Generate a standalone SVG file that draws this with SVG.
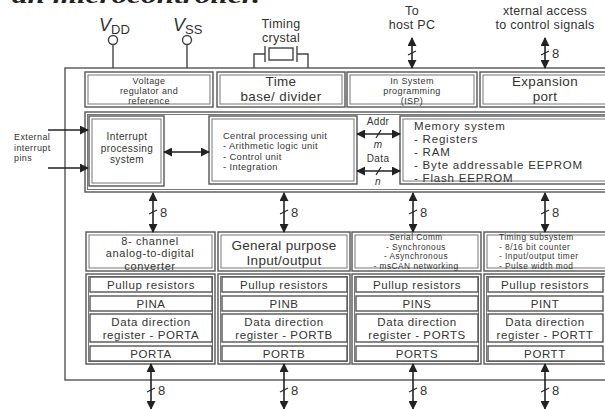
<svg xmlns="http://www.w3.org/2000/svg" width="605" height="409" viewBox="0 0 605 409">
<defs>
<marker id="ah" viewBox="0 0 10 10" refX="9" refY="5" markerWidth="9" markerHeight="9" markerUnits="userSpaceOnUse" orient="auto-start-reverse">
<path d="M0,0 L10,5 L0,10 z" fill="#222"/>
</marker>
<style>
text{font-family:"Liberation Sans",Arial,sans-serif;fill:#333}
.b{fill:none;stroke:#555;stroke-width:1.4}
.bi{fill:none;stroke:#777;stroke-width:1}
.w{fill:none;stroke:#444;stroke-width:1.4}
.a{fill:none;stroke:#222;stroke-width:1.6;marker-start:url(#ah);marker-end:url(#ah)}
.ae{fill:none;stroke:#222;stroke-width:1.6;marker-end:url(#ah)}
.s{stroke:#222;stroke-width:1.2}
.c{text-anchor:middle}
.t9{font-size:9px;letter-spacing:0.4px}
.t85{font-size:8.3px;letter-spacing:0.5px}
.t93{font-size:9.3px;letter-spacing:0.4px}
.t10{font-size:10px;letter-spacing:0.4px}
.t11{font-size:11px;letter-spacing:0.6px}
.t115{font-size:11.5px;letter-spacing:0.6px}
.t125{font-size:12.5px;letter-spacing:0.3px}
.t13{font-size:13px}
.t134{font-size:13.4px;letter-spacing:0.4px}
.mem{font-size:11.5px;letter-spacing:0.8px}
</style>
</defs>
<rect width="605" height="409" fill="#fff"/>
<text x="12" y="3" style="font-family:'Liberation Serif',serif;font-size:20px;font-weight:bold;font-style:italic;fill:#222" textLength="248" lengthAdjust="spacingAndGlyphs">an microcontroller.</text>

<rect class="b" x="65" y="68" width="560" height="312"/>

<g id="vdd">
<circle class="w" cx="113" cy="40" r="4.5"/>
<line class="w" x1="113" y1="44.5" x2="113" y2="68"/>
<text x="99" y="31" style="font-size:18px"><tspan style="font-style:italic">V</tspan><tspan dy="3" style="font-size:13px">DD</tspan></text>
</g>
<g id="vss">
<circle class="w" cx="187" cy="40" r="4.5"/>
<line class="w" x1="187" y1="44.5" x2="187" y2="68"/>
<text x="173" y="31" style="font-size:18px"><tspan style="font-style:italic">V</tspan><tspan dy="3" style="font-size:13px">SS</tspan></text>
</g>
<g id="crystal">
<text class="c t125" x="281" y="28">Timing</text>
<text class="c t125" x="281" y="42">crystal</text>
<rect class="w" x="269" y="48" width="24" height="12"/>
<line class="w" x1="265" y1="46" x2="265" y2="62"/>
<line class="w" x1="297" y1="46" x2="297" y2="62"/>
<polyline class="w" points="265,54 254,54 254,68"/>
<polyline class="w" points="297,54 308,54 308,68"/>
</g>
<g id="hostpc">
<text class="c t125" x="412" y="15">To</text>
<text class="c t125" x="412" y="29">host PC</text>
</g>
<g id="extaccess">
<text class="c t125" x="545" y="15">xternal access</text>
<text class="c t125" x="545" y="29">to control signals</text>
</g>

<g id="voltage">
<rect class="b" x="85" y="72" width="128" height="35"/><rect class="bi" x="88" y="75" width="122" height="29"/>
<text class="c t9" x="149" y="84">Voltage</text>
<text class="c t9" x="149" y="94">regulator and</text>
<text class="c t9" x="149" y="104">reference</text>
</g>
<g id="timebase">
<rect class="b" x="217" y="72" width="128" height="35"/><rect class="bi" x="220" y="75" width="122" height="29"/>
<text class="c t134" x="281" y="86">Time</text>
<text class="c t134" x="281" y="101">base/ divider</text>
</g>
<g id="isp">
<rect class="b" x="347" y="72" width="130" height="35"/><rect class="bi" x="350" y="75" width="124" height="29"/>
<text class="c t9" x="412" y="84">In System</text>
<text class="c t9" x="412" y="94">programming</text>
<text class="c t9" x="412" y="104">(ISP)</text>
</g>
<g id="expansion">
<rect class="b" x="480" y="72" width="140" height="35"/><rect class="bi" x="483" y="75" width="134" height="29"/>
<text class="c t134" x="545" y="86">Expansion</text>
<text class="c t134" x="545" y="101">port</text>
</g>

<g id="coreframe">
<rect class="b" x="85" y="112" width="535" height="80"/><rect class="bi" x="87.5" y="114.5" width="530" height="75"/>
</g>
<g id="interrupt">
<rect class="b" x="89" y="116" width="75" height="70"/><rect class="bi" x="92" y="119" width="69" height="64"/>
<text class="c t10" x="127" y="140">Interrupt</text>
<text class="c t10" x="127" y="151.5">processing</text>
<text class="c t10" x="127" y="163">system</text>
</g>
<g id="extint">
<text class="t9" x="14" y="140">External</text>
<text class="t9" x="14" y="150.5">interrupt</text>
<text class="t9" x="14" y="161">pins</text>
</g>
<g id="cpu">
<rect class="b" x="209" y="116" width="148" height="68"/><rect class="bi" x="212" y="119" width="142" height="62"/>
<text class="t93" x="223" y="138.5">Central processing unit</text>
<text class="t93" x="223" y="149">- Arithmetic logic unit</text>
<text class="t93" x="223" y="159.5">- Control unit</text>
<text class="t93" x="223" y="170">- Integration</text>
</g>
<g id="memory">
<rect class="b" x="400" y="116" width="220" height="68"/><rect class="bi" x="403" y="119" width="214" height="62"/>
<text class="mem" x="414" y="129.5">Memory  system</text>
<text class="mem" x="414" y="142.5">- Registers</text>
<text class="mem" x="414" y="155.5">- RAM</text>
<text class="mem" x="414" y="168.5">- Byte addressable EEPROM</text>
<text class="mem" x="414" y="181.5">- Flash EEPROM</text>
</g>

<g id="adc">
<rect class="b" x="86" y="232" width="129" height="39"/><rect class="bi" x="89" y="235" width="123" height="33"/>
<text class="c t11" x="150" y="244.5">8- channel</text>
<text class="c t11" x="150" y="257">analog-to-digital</text>
<text class="c t11" x="150" y="269.5">converter</text>
</g>
<g id="gpio">
<rect class="b" x="218" y="232" width="132" height="39"/><rect class="bi" x="221" y="235" width="126" height="33"/>
<text class="c" x="284" y="249.5" style="font-size:13.5px;letter-spacing:0.3px">General purpose</text>
<text class="c" x="284" y="265" style="font-size:13.5px;letter-spacing:0.3px">Input/output</text>
</g>
<g id="serial">
<rect class="b" x="352" y="232" width="129" height="39"/><rect class="bi" x="355" y="235" width="123" height="33"/>
<text class="c t85" x="416" y="240">Serial Comm</text>
<text class="c t85" x="416" y="249.5">- Synchronous</text>
<text class="c t85" x="416" y="259">- Asynchronous</text>
<text class="c t85" x="416" y="268.5">- msCAN networking</text>
</g>
<g id="timing">
<rect class="b" x="484" y="232" width="136" height="39"/><rect class="bi" x="487" y="235" width="130" height="33"/>
<text class="t85" x="499" y="240">Timing  subsystem</text>
<text class="t85" x="499" y="249.5">- 8/16 bit counter</text>
<text class="t85" x="499" y="259">- Input/output timer</text>
<text class="t85" x="499" y="268.5">- Pulse width mod</text>
</g>

<g id="porta">
<rect class="b" x="86" y="274" width="129" height="90"/><rect class="bi" x="88.5" y="276.5" width="124" height="85"/>
<rect class="b" x="90" y="277" width="122" height="15"/><text class="c t115" x="151" y="289">Pullup resistors</text>
<rect class="b" x="90" y="296" width="122" height="15"/><text class="c t115" x="151" y="308">PINA</text>
<rect class="b" x="90" y="314" width="122" height="28"/><text class="c t115" x="151" y="326">Data direction</text><text class="c t115" x="151" y="339">register - PORTA</text>
<rect class="b" x="90" y="346" width="122" height="15"/><text class="c t115" x="151" y="358">PORTA</text>
</g>
<g id="portb">
<rect class="b" x="218" y="274" width="132" height="90"/><rect class="bi" x="220.5" y="276.5" width="127" height="85"/>
<rect class="b" x="222" y="277" width="125" height="15"/><text class="c t115" x="284" y="289">Pullup resistors</text>
<rect class="b" x="222" y="296" width="125" height="15"/><text class="c t115" x="284" y="308">PINB</text>
<rect class="b" x="222" y="314" width="125" height="28"/><text class="c t115" x="284" y="326">Data direction</text><text class="c t115" x="284" y="339">register - PORTB</text>
<rect class="b" x="222" y="346" width="125" height="15"/><text class="c t115" x="284" y="358">PORTB</text>
</g>
<g id="ports">
<rect class="b" x="352" y="274" width="129" height="90"/><rect class="bi" x="354.5" y="276.5" width="124" height="85"/>
<rect class="b" x="356" y="277" width="122" height="15"/><text class="c t115" x="417" y="289">Pullup resistors</text>
<rect class="b" x="356" y="296" width="122" height="15"/><text class="c t115" x="417" y="308">PINS</text>
<rect class="b" x="356" y="314" width="122" height="28"/><text class="c t115" x="417" y="326">Data direction</text><text class="c t115" x="417" y="339">register - PORTS</text>
<rect class="b" x="356" y="346" width="122" height="15"/><text class="c t115" x="417" y="358">PORTS</text>
</g>
<g id="portt">
<rect class="b" x="484" y="274" width="136" height="90"/><rect class="bi" x="486.5" y="276.5" width="131" height="85"/>
<rect class="b" x="488" y="277" width="115" height="15"/><text class="c t115" x="545" y="289">Pullup resistors</text>
<rect class="b" x="488" y="296" width="115" height="15"/><text class="c t115" x="545" y="308">PINT</text>
<rect class="b" x="488" y="314" width="115" height="28"/><text class="c t115" x="545" y="326">Data direction</text><text class="c t115" x="545" y="339">register - PORTT</text>
<rect class="b" x="488" y="346" width="115" height="15"/><text class="c t115" x="545" y="358">PORTT</text>
</g>

<g id="connectors">
<line class="a" x1="412" y1="38" x2="412" y2="68"/>
<line class="s" x1="408" y1="55" x2="416" y2="51"/>
<line class="a" x1="545" y1="38" x2="545" y2="68"/>
<line class="s" x1="541" y1="55" x2="549" y2="51"/>
<text class="t13" x="552" y="58">8</text>

<line class="ae" x1="48" y1="130" x2="88" y2="130"/>
<line class="ae" x1="48" y1="168" x2="88" y2="168"/>
<line class="a" x1="164" y1="152" x2="209" y2="152"/>

<line class="a" x1="357" y1="134" x2="400" y2="134"/>
<line class="s" x1="376" y1="138" x2="381" y2="130"/>
<text class="c t10" x="378" y="125">Addr</text>
<text class="c t10" x="378" y="148" style="font-style:italic">m</text>
<line class="a" x1="357" y1="171" x2="400" y2="171"/>
<line class="s" x1="376" y1="175" x2="381" y2="167"/>
<text class="c t10" x="378" y="162">Data</text>
<text class="c t10" x="378" y="185" style="font-style:italic">n</text>

<line class="a" x1="153" y1="193" x2="153" y2="232"/>
<line class="s" x1="149" y1="214" x2="157" y2="210"/>
<text class="t13" x="160" y="217">8</text>
<line class="a" x1="284" y1="193" x2="284" y2="232"/>
<line class="s" x1="280" y1="214" x2="288" y2="210"/>
<text class="t13" x="291" y="217">8</text>
<line class="a" x1="413" y1="193" x2="413" y2="232"/>
<line class="s" x1="409" y1="214" x2="417" y2="210"/>
<text class="t13" x="420" y="217">8</text>
<line class="a" x1="545" y1="193" x2="545" y2="232"/>
<line class="s" x1="541" y1="214" x2="549" y2="210"/>
<text class="t13" x="552" y="217">8</text>

<line class="a" x1="151" y1="364" x2="151" y2="409"/>
<line class="s" x1="147" y1="392" x2="155" y2="388"/>
<text class="t13" x="158" y="395">8</text>
<line class="a" x1="284" y1="364" x2="284" y2="409"/>
<line class="s" x1="280" y1="392" x2="288" y2="388"/>
<text class="t13" x="291" y="395">8</text>
<line class="a" x1="413" y1="364" x2="413" y2="409"/>
<line class="s" x1="409" y1="392" x2="417" y2="388"/>
<text class="t13" x="420" y="395">8</text>
<line class="a" x1="545" y1="364" x2="545" y2="409"/>
<line class="s" x1="541" y1="392" x2="549" y2="388"/>
<text class="t13" x="552" y="395">8</text>
</g>
</svg>
